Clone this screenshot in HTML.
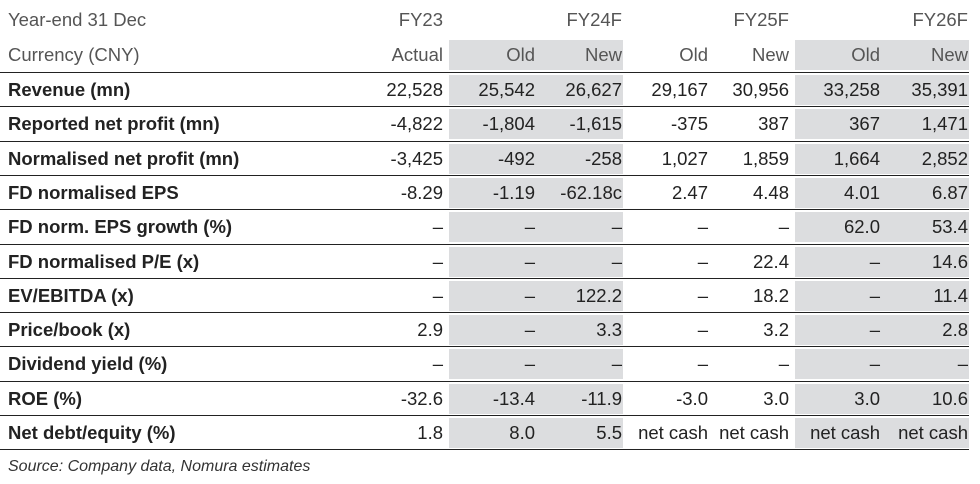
<!DOCTYPE html>
<html><head><meta charset="utf-8"><style>
body{margin:0;width:980px;height:483px;background:#fff;font-family:"Liberation Sans",Arial,sans-serif;position:relative;overflow:hidden}
.r{position:absolute;left:0;width:969px;height:34px}
.l{position:absolute;left:0;width:969px;height:0;border-top:1.6px solid #222}
.g{position:absolute;background:#dcdddf;top:2px;height:30px}
.t{position:absolute;top:0;line-height:34px;font-size:18.5px;color:#222;white-space:nowrap}
.b{font-weight:bold;left:8px}
.h .t{color:#555}
.c{text-align:right;width:120px}
</style></head><body>
<div class="r h" style="top:3px"><span class="t" style="left:8px">Year-end 31 Dec</span>
<span class="t c" style="left:323px">FY23</span><span class="t c" style="left:502px">FY24F</span><span class="t c" style="left:669px">FY25F</span><span class="t c" style="left:848px">FY26F</span></div>
<div class="r h" style="top:38px"><div class="g" style="left:449px;width:174px"></div><div class="g" style="left:795px;width:174px"></div>
<span class="t" style="left:8px">Currency (CNY)</span>
<span class="t c" style="left:323px">Actual</span><span class="t c" style="left:415px">Old</span><span class="t c" style="left:502px">New</span><span class="t c" style="left:588px">Old</span><span class="t c" style="left:669px">New</span><span class="t c" style="left:760px">Old</span><span class="t c" style="left:848px">New</span></div>
<div id="rows"></div>
<div class="t" style="top:450px;left:8px;font-size:16px;font-style:italic;color:#333">Source: Company data, Nomura estimates</div>
<script>
var d=[["Revenue (mn)","22,528","25,542","26,627","29,167","30,956","33,258","35,391"],
["Reported net profit (mn)","-4,822","-1,804","-1,615","-375","387","367","1,471"],
["Normalised net profit (mn)","-3,425","-492","-258","1,027","1,859","1,664","2,852"],
["FD normalised EPS","-8.29","-1.19","-62.18c","2.47","4.48","4.01","6.87"],
["FD norm. EPS growth (%)","–","–","–","–","–","62.0","53.4"],
["FD normalised P/E (x)","–","–","–","–","22.4","–","14.6"],
["EV/EBITDA (x)","–","–","122.2","–","18.2","–","11.4"],
["Price/book (x)","2.9","–","3.3","–","3.2","–","2.8"],
["Dividend yield (%)","–","–","–","–","–","–","–"],
["ROE (%)","-32.6","-13.4","-11.9","-3.0","3.0","3.0","10.6"],
["Net debt/equity (%)","1.8","8.0","5.5","net cash","net cash","net cash","net cash"]];
var R=[443,535,622,708,789,880,968],h="";
for(var i=0;i<d.length;i++){var y=72+i*34.3;
h+='<div class="l" style="top:'+y+'px"></div><div class="r" style="top:'+(y+1)+'px"><div class="g" style="left:449px;width:174px"></div><div class="g" style="left:795px;width:174px"></div><span class="t b">'+d[i][0]+'</span>';
for(var j=1;j<8;j++)h+='<span class="t c" style="left:'+(R[j-1]-120)+'px">'+d[i][j]+'</span>';
h+='</div>';}
h+='<div class="l" style="top:'+(72+11*34.3)+'px"></div>';
document.getElementById("rows").innerHTML=h;
</script>
</body></html>
